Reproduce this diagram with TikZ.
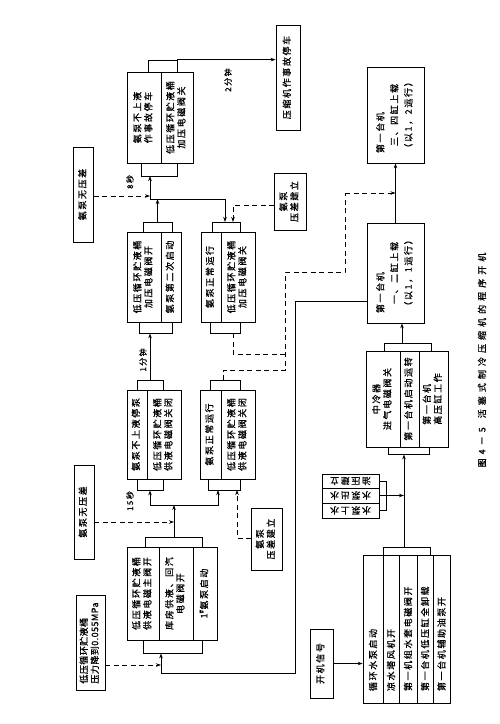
\documentclass[tikz,border=0pt]{standalone}
\usepackage{fontspec}
\usepackage{graphicx}
\setmainfont{Noto Sans CJK SC}[LetterSpace=18,FakeBold=0.8]
\newfontfamily\tightfont{Noto Sans CJK SC}[LetterSpace=5,FakeBold=0.8]
\newfontfamily\capfont{Noto Sans CJK SC}[LetterSpace=45,FakeBold=0.8]
\usetikzlibrary{arrows.meta,calc}
\newcommand{\vt}[1]{\rotatebox{90}{\begin{tabular}{@{}c@{}}#1\end{tabular}}}
\newcommand{\vtw}[2]{\rotatebox{90}{\makebox[#1][l]{#2}}}
\tikzset{
  box/.style={draw, line width=0.8pt, inner sep=0pt, font=\fontsize{9}{11}\selectfont},
  tabbox/.style={draw, line width=0.8pt, inner sep=0pt},
  conn/.style={line width=0.8pt},
  arr/.style={conn, -{Stealth[length=5pt,width=3.5pt]}},
  dsh/.style={dash pattern=on 5pt off 3.5pt},
  lbl/.style={font=\fontsize{8}{9}\selectfont, rotate=90, inner sep=1pt}
}
\begin{document}
\begin{tikzpicture}[x=1pt,y=-1pt]
\useasboundingbox (0,0) rectangle (500,724);

% ---------- left condition boxes
\node[box,minimum width=20pt,minimum height=95pt] (w1) at (83.5,194.5) {\vt{氨泵无压差}};
\node[box,minimum width=20pt,minimum height=94pt] (w2) at (84,512) {\vt{氨泵无压差}};
\node[box,minimum width=29pt,minimum height=95pt] (mpa) at (90.5,643)
  {\tightfont\rotatebox{90}{\begin{tabular}{@{}l@{}}低压循环贮液桶\\压力降到0.055MPa\end{tabular}}};

% ---------- top group
\node[tabbox,minimum width=29pt,minimum height=12pt] (tT) at (162.5,66) {};
\node[tabbox,minimum width=36pt,minimum height=13pt] (tB) at (159,169.5) {};
\node[box,minimum width=34pt,minimum height=91pt] (t1) at (144,117.5) {\vt{氨泵不上液\\作事故停车}};
\node[box,minimum width=32pt,minimum height=91pt] (t2) at (177,117.5) {\vt{低压循环贮液桶\\加压电磁阀关}};

% ---------- group A
\node[tabbox,minimum width=29pt,minimum height=10pt] (aT) at (157.5,227) {};
\node[tabbox,minimum width=33pt,minimum height=11pt] (aB) at (155.5,327.5) {};
\node[box,minimum width=34pt,minimum height=90pt] (a1) at (144,277) {\vt{低压循环贮液桶\\加压电磁阀开}};
\node[box,minimum width=20pt,minimum height=90pt] (a2) at (171,277) {\vt{氨泵第二次启动}};

% ---------- group B
\node[tabbox,minimum width=28pt,minimum height=10pt] (bT) at (226,227) {};
\node[tabbox,minimum width=30pt,minimum height=11pt] (bB) at (225,327.5) {};
\node[box,minimum width=20pt,minimum height=90pt] (b1) at (211,277) {\vt{氨泵正常运行}};
\node[box,minimum width=34pt,minimum height=90pt] (b2) at (238,277) {\vt{低压循环贮液桶\\加压电磁阀关}};

% ---------- group C
\node[tabbox,minimum width=26pt,minimum height=10pt] (cT) at (150,385) {};
\node[tabbox,minimum width=26pt,minimum height=11pt] (cB) at (150,484.5) {};
\node[box,minimum width=20pt,minimum height=89pt] (c1) at (137,434.5) {\vt{氨泵不上液停泵}};
\node[box,minimum width=34pt,minimum height=89pt] (c2) at (164,434.5) {\vt{低压循环贮液桶\\供液电磁阀关闭}};

% ---------- group D
\node[tabbox,minimum width=30pt,minimum height=10pt] (dT) at (225,385) {};
\node[tabbox,minimum width=32pt,minimum height=11pt] (dB) at (224,484.5) {};
\node[box,minimum width=21pt,minimum height=89pt] (d1) at (210.5,434.5) {\vt{氨泵正常运行}};
\node[box,minimum width=34pt,minimum height=89pt] (d2) at (238,434.5) {\vt{低压循环贮液桶\\供液电磁阀关闭}};

% ---------- group 1
\node[tabbox,minimum width=57pt,minimum height=10pt] (oT) at (173.5,542) {};
\node[tabbox,minimum width=59pt,minimum height=13pt] (oB) at (172.5,646.5) {};
\node[box,minimum width=32pt,minimum height=93pt] (o1) at (143,593.5) {\vt{低压循环贮液桶\\供液电磁主阀开}};
\node[box,minimum width=34pt,minimum height=93pt] (o2) at (176,593.5) {\vt{库房供液、回汽\\电磁阀开}};
\node[box,minimum width=24pt,minimum height=93pt] (o3) at (205,593.5) {\vt{1\textsuperscript{\#}氨泵启动}};

% ---------- pressure boxes
\node[box,minimum width=32pt,minimum height=57pt] (w4) at (290,201.5) {\vt{氨泵\\压差建立}};
\node[box,minimum width=31pt,minimum height=62pt] (w3) at (266.5,539) {\vt{氨泵\\压差建立}};

% ---------- stop box
\node[box,minimum width=24pt,minimum height=105pt] (stop) at (288,77.5) {\vt{压缩机作事故停车}};

% ---------- compressor boxes
\node[box,minimum width=57pt,minimum height=96pt] (y34) at (395.5,115)
  {\rotatebox{90}{\begin{tabular}{@{}c@{}}\makebox[76pt][l]{第一台机}\\[3pt]三、四缸上载\\[3pt]（以1，2运行）\end{tabular}}};
\node[box,minimum width=57pt,minimum height=100pt] (y12) at (395.5,273)
  {\rotatebox{90}{\begin{tabular}{@{}c@{}}\makebox[80pt][l]{第一台机}\\[3pt]一、二缸上载\\[3pt]（以1，1运行）\end{tabular}}};

% ---------- intercooler group
\node[tabbox,minimum width=47pt,minimum height=8pt] (zT) at (407.5,347) {};
\node[tabbox,minimum width=41pt,minimum height=7pt] (zB) at (408.5,450.5) {};
\node[box,minimum width=34pt,minimum height=96pt] (z1) at (383,399) {\vt{中冷器\\进气电磁阀关}};
\node[box,minimum width=19pt,minimum height=96pt] (z2) at (409.5,399) {\vt{第一台机启动运转}};
\node[box,minimum width=29pt,minimum height=96pt] (z3) at (433.5,399)
  {\rotatebox{90}{\begin{tabular}{@{}l@{}}第一台机\\高压缸工作\end{tabular}}};

% ---------- start group
\node[tabbox,minimum width=47pt,minimum height=8pt] (sT) at (406.5,551) {};
\node[box,minimum width=20pt,minimum height=148pt] (s1) at (373,629) {\vtw{124pt}{循环水泵启动}};
\node[box,minimum width=16pt,minimum height=148pt] (s2) at (391,629) {\vtw{124pt}{凉水塔风机开}};
\node[box,minimum width=18pt,minimum height=148pt] (s3) at (408,629) {\vtw{124pt}{第一机组水套电磁阀开}};
\node[box,minimum width=16pt,minimum height=148pt] (s4) at (425,629) {\vtw{124pt}{第一台机低压缸全卸载}};
\node[box,minimum width=17pt,minimum height=148pt] (s5) at (441.5,629) {\vtw{124pt}{第一台机辅助油泵开}};

% ---------- water / oil small boxes
\node[box,minimum width=57pt,minimum height=14pt] (r1) at (350.5,481) {\rotatebox{180}{油压建立}};
\node[box,minimum width=57pt,minimum height=15pt] (r2) at (350.5,495.5) {\rotatebox{180}{水泵出水}};
\node[box,minimum width=57pt,minimum height=15pt] (r3) at (350.5,510.5) {\rotatebox{180}{水泵上水}};

% ---------- start signal
\node[box,minimum width=23pt,minimum height=69pt] (kj) at (321.5,663.5) {\vt{开机信号}};

% ---------- caption
\node[rotate=90,font=\capfont\fontsize{9}{10}\selectfont] (cap) at (482,360) {图4－5\quad 活塞式制冷压缩机的程序开机};

% ---------- labels
\node[lbl] (l8) at (130,182) {8秒};
\node[lbl] (l2) at (228,80) {2分钟};
\node[lbl] (l1) at (143,360) {1分钟};
\node[lbl] (l15) at (130,501) {15秒};

% ---------- helper coordinates
\coordinate (br) at (386,495.5);
\coordinate (vz) at (404,0);
\coordinate (vy) at (402,0);
\coordinate (j1) at (157.5,199);
\coordinate (j2) at (174,505);
\coordinate (xL) at (150,176);
\coordinate (xB1) at (225,222);
\coordinate (xB2) at (233,222);
\coordinate (xD1) at (218,490);
\coordinate (xD2) at (237,490);
\coordinate (m1) at (295,301);
\coordinate (m2) at (295,673);
\coordinate (m3) at (161,673);
\coordinate (n1) at (285,354);
\coordinate (n2) at (285,370);
\coordinate (n3) at (285,272);
\coordinate (n4) at (345,272);
\coordinate (n5) at (345,193);
\coordinate (bBo) at (233,333);
\coordinate (dTo) at (223,380);
\coordinate (w1o) at (93.5,196);
\coordinate (w2o) at (94,522);
\coordinate (w3o) at (251,538);
\coordinate (w4o) at (274,205);
\coordinate (mpo) at (105,665);
\coordinate (y12o) at (367,301);

% ---------- connectors
\draw[arr] (kj.east) -- (kj.east -| s1.west);
\draw[arr] (vz |- sT.north) -- (vz |- zB.south);
\draw[conn] (r1.east) -- (r1.east -| br) -- (r3.east -| br) -- (r3.east);
\draw[arr] (r2.east) -- (r2.east -| vz);
\draw[arr] (vy |- zT.north) -- (vy |- y12.south);
\draw[arr] (y12.north) -- (y34.south);

\draw[conn,dsh] (bBo) |- (n1);
\draw[conn,dsh] (dTo) |- (n2) -- (n3) -- (n4) -- (n5);
\draw[arr,dsh] (n5) -- (n5 -| y34.south);

\draw[arr] (y12o) -- (m1) -- (m2) -- (m3) -- (m3 |- oB.south);
\draw[arr,dsh] (mpo) -- (mpo -| m3);

\draw[arr] (j2 |- oT.north) -- (j2);
\draw[arr] (j2) -| (cB.south);
\draw[arr] (j2) -| (xD1);
\draw[arr,dsh] (w2o) -- (w2o -| j2);
\draw[arr,dsh] (w3o) -| (xD2);

\draw[arr] (cT.north) -- (cT.north |- aB.south);

\draw[arr] (aT.north) -- (j1);
\draw[arr] (j1) -| (xL);
\draw[arr] (j1) -| (xB1);
\draw[arr,dsh] (w1o) -- (w1o -| xL);
\draw[arr,dsh] (w4o) -| (xB2);

\draw[arr] (tT.north east) -- (tT.north east -| stop.west);
\end{tikzpicture}
\end{document}
